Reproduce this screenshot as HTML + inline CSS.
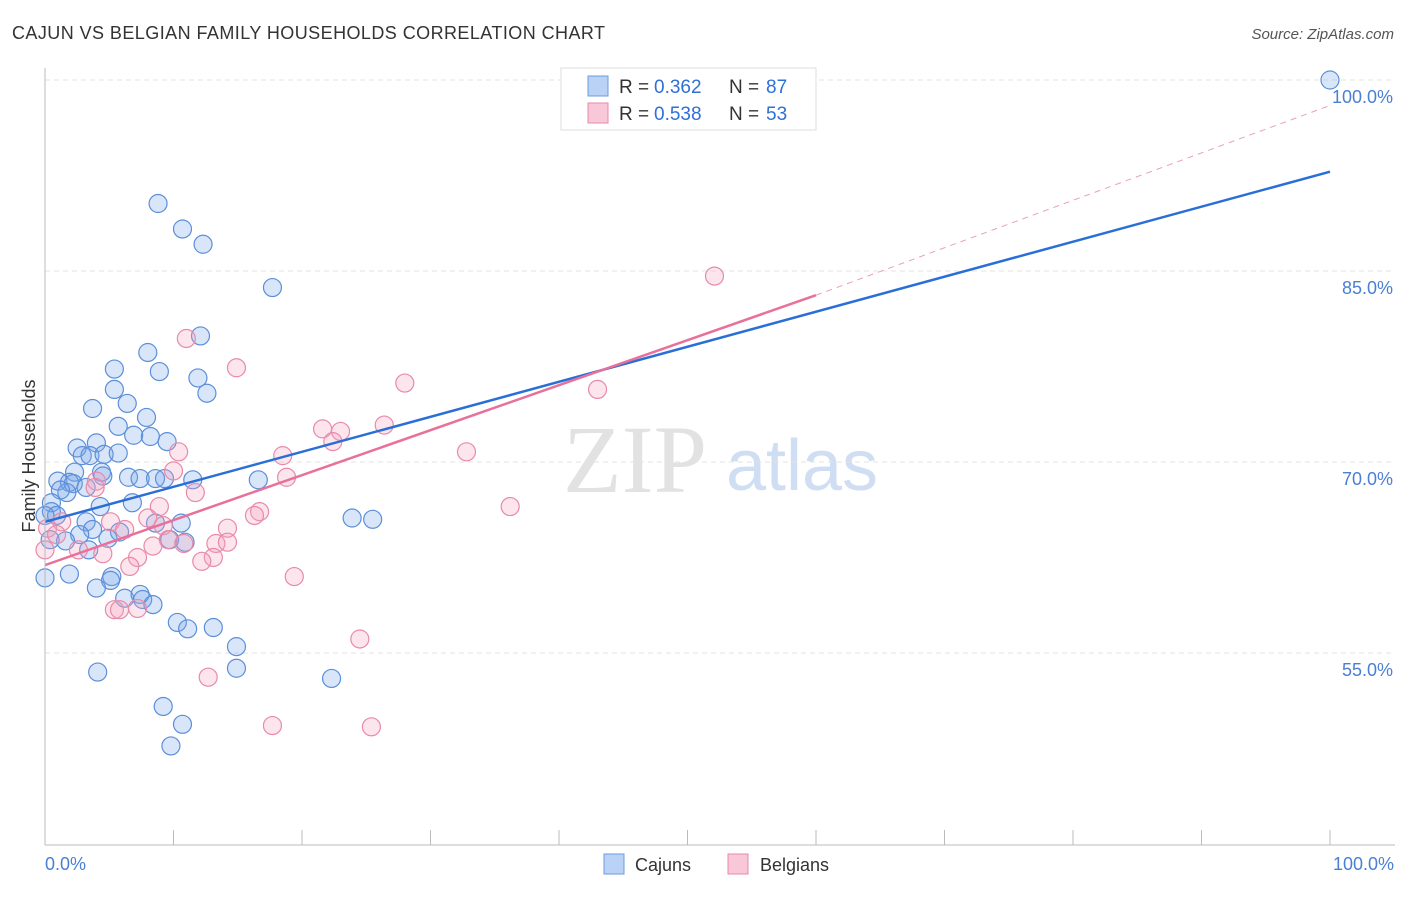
<!DOCTYPE html>
<html><head><meta charset="utf-8"><style>
body{margin:0;background:#fff;font-family:"Liberation Sans",sans-serif}
</style></head><body>
<svg width="1406" height="892" id="c">
<text x="12" y="39" font-size="18" fill="#333" textLength="593">CAJUN VS BELGIAN FAMILY HOUSEHOLDS CORRELATION CHART</text>
<text x="1394" y="39" font-size="15" fill="#555" font-style="italic" text-anchor="end">Source: ZipAtlas.com</text>
<text x="35" y="456" font-size="18" fill="#333" text-anchor="middle" transform="rotate(-90 35 456)">Family Households</text>
<text x="635" y="492" font-size="96" fill="#e2e2e2" font-family="Liberation Serif" text-anchor="middle">ZIP</text>
<text x="802" y="490" font-size="72" fill="#d0def3" text-anchor="middle">atlas</text>
<g id="grid"></g><g id="pts"></g><g id="lines"></g>
<line x1="45" y1="68" x2="45" y2="845" stroke="#bbb"/>
<line x1="45" y1="845" x2="1395" y2="845" stroke="#bbb"/>
<text x="45" y="870" font-size="18" fill="#4a7fd4">0.0%</text>
<text x="1394" y="870" font-size="18" fill="#4a7fd4" text-anchor="end">100.0%</text>
<g font-size="19">
<rect x="561" y="68" width="255" height="62" fill="#fff" stroke="#ddd"/>
<rect x="588" y="76" width="20" height="20" fill="#b9d2f5" stroke="#6d9be0"/>
<rect x="588" y="103" width="20" height="20" fill="#f8c8d8" stroke="#e88aa8"/>
<text x="619" y="93" fill="#333">R =</text><text x="654" y="93" fill="#2f6fd6">0.362</text>
<text x="729" y="93" fill="#333">N =</text><text x="766" y="93" fill="#2f6fd6">87</text>
<text x="619" y="120" fill="#333">R =</text><text x="654" y="120" fill="#2f6fd6">0.538</text>
<text x="729" y="120" fill="#333">N =</text><text x="766" y="120" fill="#2f6fd6">53</text>
</g>
<g>
<rect x="604" y="854" width="20" height="20" fill="#b9d2f5" stroke="#6d9be0"/>
<text x="635" y="871" font-size="18" fill="#333">Cajuns</text>
<rect x="728" y="854" width="20" height="20" fill="#f8c8d8" stroke="#e88aa8"/>
<text x="760" y="871" font-size="18" fill="#333">Belgians</text>
</g>
</svg>
<script>
const yTicks=[100,85,70,55];
const cajunX=[100,8.8,10.7,12.3,17.7,12.1,8.0,8.9,5.4,11.9,5.4,12.6,3.7,6.4,7.9,5.7,6.9,8.2,9.5,4.0,2.5,2.9,3.5,4.6,5.7,2.3,4.4,4.5,6.5,7.4,8.6,9.3,11.5,16.6,1.0,1.9,2.2,3.2,1.7,1.2,0.5,6.8,4.3,0.5,0.9,0,3.2,8.6,10.6,23.9,25.5,3.7,5.8,2.7,4.9,0.4,1.6,9.7,10.9,3.4,0,1.9,5.2,5.1,4.0,6.2,7.4,7.6,8.4,10.3,11.1,13.1,14.9,4.1,14.9,22.3,9.2,10.7,9.8];
const cajunY=[100,90.3,88.3,87.1,83.7,79.9,78.6,77.1,77.3,76.6,75.7,75.4,74.2,74.6,73.5,72.8,72.1,72.0,71.6,71.5,71.1,70.5,70.5,70.6,70.7,69.2,69.2,68.9,68.8,68.7,68.7,68.7,68.6,68.6,68.5,68.4,68.3,68.0,67.6,67.8,66.8,66.8,66.5,66.1,65.8,65.8,65.3,65.2,65.2,65.6,65.5,64.7,64.5,64.3,64.0,63.9,63.8,63.9,63.7,63.1,60.9,61.2,61.0,60.7,60.1,59.3,59.6,59.2,58.8,57.4,56.9,57.0,55.5,53.5,53.8,53.0,50.8,49.4,47.7];
const belgX=[52.1,11.0,14.9,28.0,43.0,26.4,21.6,23.0,22.4,32.8,18.5,10.4,10.0,18.8,4.0,3.9,11.7,8.9,36.2,16.7,16.3,8.0,1.3,5.1,9.2,0.2,6.2,14.2,0.9,9.6,10.8,13.3,14.2,8.4,0,2.6,4.5,7.2,13.1,12.2,6.6,19.4,5.4,5.8,7.2,24.5,12.7,17.7,25.4];
const belgY=[84.6,79.7,77.4,76.2,75.7,72.9,72.6,72.4,71.6,70.8,70.5,70.8,69.3,68.8,68.5,68.0,67.6,66.5,66.5,66.1,65.8,65.6,65.3,65.3,65.0,64.8,64.7,64.8,64.3,63.9,63.6,63.6,63.7,63.4,63.1,63.1,62.8,62.5,62.5,62.2,61.8,61.0,58.4,58.4,58.5,56.1,53.1,49.3,49.2];
const cajunTrend=[65.3,92.8];
const belgTrend=[61.9,83.1,98.0];
const X=v=>45+v*12.85, Y=v=>80+(100-v)*12.733;
const NS='http://www.w3.org/2000/svg';
function mk(t,a,p){const e=document.createElementNS(NS,t);for(const k in a)e.setAttribute(k,a[k]);document.getElementById(p).appendChild(e);return e;}
yTicks.forEach(t=>{
 const l=mk('line',{x1:45,x2:1395,y1:Y(t),y2:Y(t),stroke:'#e3e3e3','stroke-dasharray':'5,4'},'grid');
 
 
 const tx=mk('text',{x:1393,y:Y(t)+23,'font-size':18,fill:'#4a7fd4','text-anchor':'end'},'grid');
 tx.textContent=t.toFixed(1)+'%';
 
 
});
for(let i=0;i<=10;i++){const l=mk('line',{x1:X(i*10),x2:X(i*10),y1:830,y2:845,stroke:'#bbb'},'grid');
 
 }
cajunX.forEach((v,i)=>{const c=mk('circle',{cx:X(v),cy:Y(cajunY[i]),r:9,fill:'rgba(120,165,235,0.28)',stroke:'#5b8fd9','stroke-width':1.2},'pts');
 
 });
belgX.forEach((v,i)=>{const c=mk('circle',{cx:X(v),cy:Y(belgY[i]),r:9,fill:'rgba(245,160,190,0.28)',stroke:'#e88aa8','stroke-width':1.2},'pts');
 
 });
let l=mk('line',{x1:X(0),y1:Y(cajunTrend[0]),x2:X(100),y2:Y(cajunTrend[1]),stroke:'#2a6fd6','stroke-width':2.5},'lines');


l=mk('line',{x1:X(0),y1:Y(belgTrend[0]),x2:X(60),y2:Y(belgTrend[1]),stroke:'#e8709a','stroke-width':2.5},'lines');


l=mk('line',{x1:X(60),y1:Y(belgTrend[1]),x2:X(100),y2:Y(belgTrend[2]),stroke:'#e8a0b8','stroke-width':1,'stroke-dasharray':'6,5'},'lines');


</script>
</body></html>
